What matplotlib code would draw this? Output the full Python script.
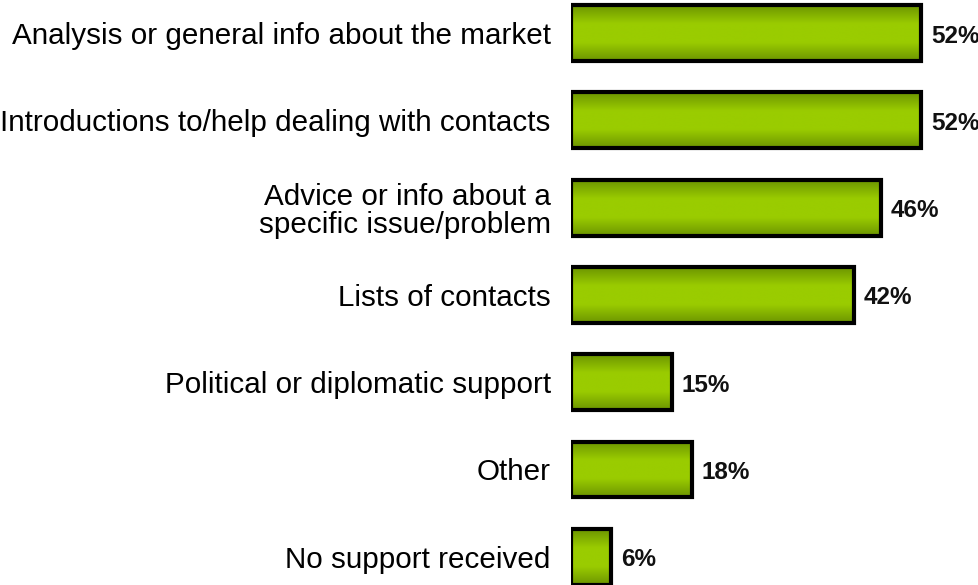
import numpy as np
import matplotlib.pyplot as plt
from matplotlib.colors import LinearSegmentedColormap

categories = [
    "Analysis or general info about the market",
    "Introductions to/help dealing with contacts",
    "Advice or info about a\nspecific issue/problem",
    "Lists of contacts",
    "Political or diplomatic support",
    "Other",
    "No support received",
]
values = [52, 52, 46, 42, 15, 18, 6]

plt.rcParams['font.family'] = ['Liberation Sans', 'DejaVu Sans']

fig = plt.figure(figsize=(9.79, 5.85), dpi=100)
ax = fig.add_axes([571 / 979, 0, 404 / 979, 1])

ypos = np.arange(len(values))
bar_h = 0.64
bars = ax.barh(ypos, values, height=bar_h, facecolor='none',
               edgecolor='black', linewidth=3, zorder=3)

# vertical shading: darker olive at the edges, bright lime in the middle
cmap = LinearSegmentedColormap.from_list(
    'lime', ['#6c9400', '#9acc00', '#9acc00', '#6c9400'])
grad = np.linspace(0, 1, 256).reshape(-1, 1)
for b in bars:
    x0, y0 = b.get_x(), b.get_y()
    w, h = b.get_width(), b.get_height()
    im = ax.imshow(grad, cmap=cmap, aspect='auto', interpolation='bicubic',
                   extent=[x0, x0 + w, y0 + h, y0], zorder=2)
    im.set_clip_path(b)

for y, v in zip(ypos, values):
    ax.text(v + 1.45, y + 0.035, f"{v}%", va='center', ha='left',
            fontsize=17.5, fontweight='bold', color='#111111')

ax.set_xlim(0, 60)
ax.set_ylim((585 - 33) / 87.3, -33 / 87.3)
ax.set_yticks(ypos)
ax.set_yticklabels(categories, fontsize=21.3, linespacing=1.0)
ax.tick_params(axis='y', length=0, pad=14.5)
ax.set_xticks([])
for s in ax.spines.values():
    s.set_visible(False)

fig.savefig('out.png', dpi=100)
